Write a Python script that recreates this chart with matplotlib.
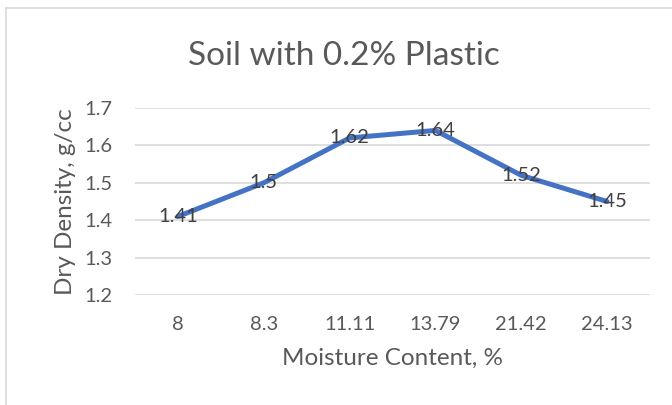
import matplotlib.pyplot as plt
from matplotlib.lines import Line2D

moisture = ["8", "8.3", "11.11", "13.79", "21.42", "24.13"]
density = [1.41, 1.5, 1.62, 1.64, 1.52, 1.45]

txt = "#595959"
plt.rcParams['font.family'] = ['Lato', 'DejaVu Sans']

fig = plt.figure(figsize=(6.72, 4.05), dpi=100)
ax = fig.add_axes([135/672, 1 - 295/405, 515/672, 187/405])

x = list(range(len(moisture)))
ax.plot(x, density, color="#4472C4", lw=3.6, solid_capstyle="round", zorder=3)
for xi, v in zip(x, density):
    ax.text(xi, v, f"{v:g}", ha="center", va="center", fontsize=14.5, color="#404040", zorder=4)

ax.set_xlim(-0.5, len(moisture) - 0.5)
ax.set_ylim(1.2, 1.7)
ax.set_yticks([1.2, 1.3, 1.4, 1.5, 1.6, 1.7])
ax.set_xticks(x)
ax.set_xticklabels(moisture)
ax.grid(axis="y", color="#D9D9D9", lw=1.2)
ax.set_axisbelow(True)
for s in ax.spines.values():
    s.set_visible(False)
ax.tick_params(length=0, labelsize=14.5, colors=txt)
ax.tick_params(axis="x", pad=15)
ax.tick_params(axis="y", pad=16)

ax.set_xlabel("Moisture Content, %", fontsize=17.5, color=txt, labelpad=11)
ax.set_ylabel("Dry Density, g/cc", fontsize=17.5, color=txt, labelpad=6)
fig.text(344/672, 1 - 65/405, "Soil with 0.2% Plastic", ha="center", va="baseline", fontsize=24, color=txt)

# chart frame
fig.add_artist(Line2D([6/672, 1], [1 - 8/405, 1 - 8/405], transform=fig.transFigure, color="#D9D9D9", lw=1.2))
fig.add_artist(Line2D([6/672, 6/672], [0, 1 - 8/405], transform=fig.transFigure, color="#D9D9D9", lw=1.2))

fig.savefig("out.png", dpi=100)
